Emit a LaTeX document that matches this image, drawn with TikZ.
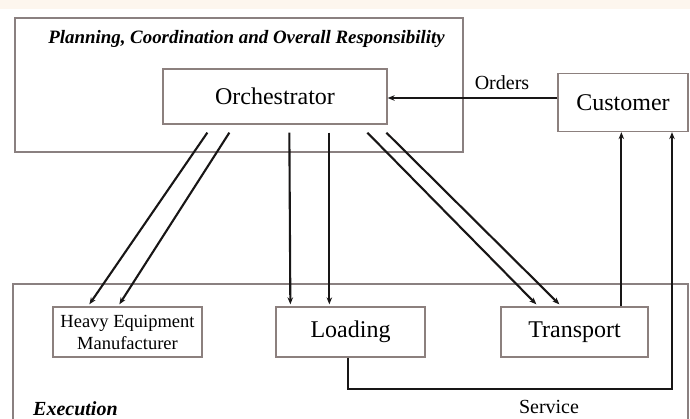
\documentclass[tikz,border=0pt]{standalone}
\usepackage{fontspec}
\setmainfont{Liberation Serif}
\usetikzlibrary{arrows.meta,calc}

\definecolor{boxline}{RGB}{140,128,126}
\definecolor{frameline}{RGB}{138,128,128}
\definecolor{arrowink}{RGB}{24,22,22}
\definecolor{topband}{RGB}{253,246,238}

\tikzset{
  unit/.style={draw=boxline, line width=1.3pt, inner sep=0pt, align=center,
    font=\fontsize{24}{26}\selectfont},
  frame/.style={draw=frameline, line width=1.4pt},
  arr/.style={draw=arrowink, line width=2.1pt,
    -{Stealth[length=7pt,width=5.5pt]}},
  zonetitle/.style={font=\fontsize{18.9}{20}\selectfont\bfseries\itshape, inner sep=0pt},
  flowlabel/.style={font=\fontsize{20}{22}\selectfont, inner sep=0pt}
}

\begin{document}
\begin{tikzpicture}[x=1pt,y=-1pt]
  \useasboundingbox (0,0) rectangle (690,419);
  \fill[topband] (0,0) rectangle (690,9);

  % planning zone
  \draw[frame] (15,18) rectangle (463,152);
  \node[zonetitle] (plantitle) at (246.5,39) {Planning, Coordination and Overall Responsibility};

  % execution zone (runs off the lower edge)
  \draw[frame] (13,430) -- (13,284) -- (688,284) -- (688,430);
  \node[zonetitle, font=\fontsize{20}{22}\selectfont\bfseries\itshape, anchor=west] (exectitle) at (33,409) {Execution};

  % actors
  \node[unit, minimum width=224pt, minimum height=55pt] (orch) at (275,96.5) {Orchestrator};
  \node[unit, minimum width=130pt, minimum height=58pt] (cust) at (623,102.5) {Customer};
  \node[unit, minimum width=149pt, minimum height=50pt, font=\fontsize{18.5}{22}\selectfont] (heavy) at (127.5,332) {Heavy Equipment\\Manufacturer};
  \node[unit, minimum width=149pt, minimum height=50pt] (load) at (350.5,332) {Loading};
  \node[unit, minimum width=147pt, minimum height=50pt] (trans) at (574.5,332) {Transport};

  % orders from the customer
  \draw[arr] ([yshift=4.5pt]cust.west) -- ([yshift=4.5pt]cust.west -| orch.east);
  \node[flowlabel] (orders) at (502,83) {Orders};

  % orchestrator to heavy equipment manufacturer
  \draw[arr] ([xshift=45pt,yshift=-8pt]orch.south west) -- ([xshift=37pt,yshift=2pt]heavy.north west);
  \draw[arr] ([xshift=67pt,yshift=-8pt]orch.south west) -- ([xshift=67pt,yshift=2pt]heavy.north west);

  % orchestrator to loading
  \draw[arr] ([xshift=127pt,yshift=-8pt]orch.south west) -- ([xshift=15pt,yshift=2pt]load.north west);
  \draw[arr] ([xshift=167pt,yshift=-8pt]orch.south west) -- ([xshift=54pt,yshift=2pt]load.north west);

  % orchestrator to transport
  \draw[arr] ([xshift=205pt,yshift=-8pt]orch.south west) -- ([xshift=36pt,yshift=2pt]trans.north west);
  \draw[arr] ([xshift=224pt,yshift=-8pt]orch.south west) -- ([xshift=59pt,yshift=2pt]trans.north west);

  % transport up to the customer
  \draw[arr] ([xshift=121pt]trans.north west) -- ([xshift=121pt]trans.north west |- cust.south);

  % service path from loading to the customer
  \coordinate (svcdown) at ([xshift=73pt]load.south west |- 0,389);
  \coordinate (svcright) at (672,389);
  \draw[arr] ([xshift=73pt]load.south west) -- (svcdown) -- (svcright) -- (svcright |- cust.south);
  \node[flowlabel] (service) at (549,407) {Service};
\end{tikzpicture}
\end{document}
